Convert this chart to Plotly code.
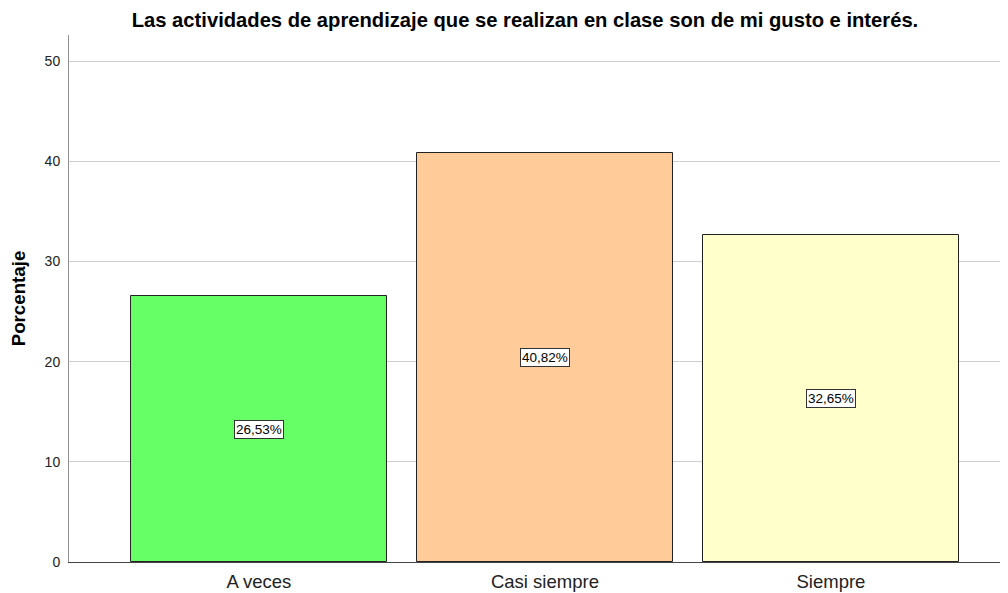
import plotly.graph_objects as go

categories = ["A veces", "Casi siempre", "Siempre"]
values = [26.53, 40.82, 32.65]
labels = ["26,53%", "40,82%", "32,65%"]
colors = ["#66FF66", "#FFCC99", "#FFFFCC"]
y_ticks = [0, 10, 20, 30, 40, 50]

FONT = "Liberation Sans, Arial, sans-serif"

fig = go.Figure()
fig.add_trace(go.Bar(
    x=list(range(len(categories))), y=values,
    width=0.895,
    marker=dict(color=colors, line=dict(color="#222222", width=1)),
    hoverinfo="skip",
))

for i, (v, lab) in enumerate(zip(values, labels)):
    fig.add_annotation(x=i, y=v / 2, text=lab, showarrow=False,
                       font=dict(family=FONT, size=13.5, color="#000"),
                       bgcolor="white", bordercolor="#333", borderwidth=1, borderpad=1)

fig.update_layout(
    width=1000, height=585,
    margin=dict(l=61, r=0, t=27, b=31),
    paper_bgcolor="white", plot_bgcolor="white",
    showlegend=False,
    title=dict(text="<b>Las actividades de aprendizaje que se realizan en clase son de mi gusto e interés.</b>",
               x=0.4856, xref="paper", xanchor="center", y=0.9795, yref="container", yanchor="middle",
               font=dict(family=FONT, size=20.2, color="#000")),
    xaxis=dict(range=[-0.664, 2.619], tickvals=list(range(len(categories))), ticktext=categories,
               showgrid=False, zeroline=False, showline=True, linecolor="#444", linewidth=1,
               ticks="", ticklabelstandoff=3,
               tickfont=dict(family=FONT, size=18.5, color="#222")),
    yaxis=dict(range=[0, 52.6], tickvals=y_ticks, showgrid=True, gridcolor="#CFCFCF", gridwidth=1,
               zeroline=False, showline=True, linecolor="#909090", linewidth=1,
               ticks="", ticklabelstandoff=5,
               tickfont=dict(family=FONT, size=14, color="#222"),
               title=dict(text="<b>Porcentaje</b>", standoff=18,
                          font=dict(family=FONT, size=18.7, color="#000"))),
    bargap=0,
)

fig.write_html("out.html")
